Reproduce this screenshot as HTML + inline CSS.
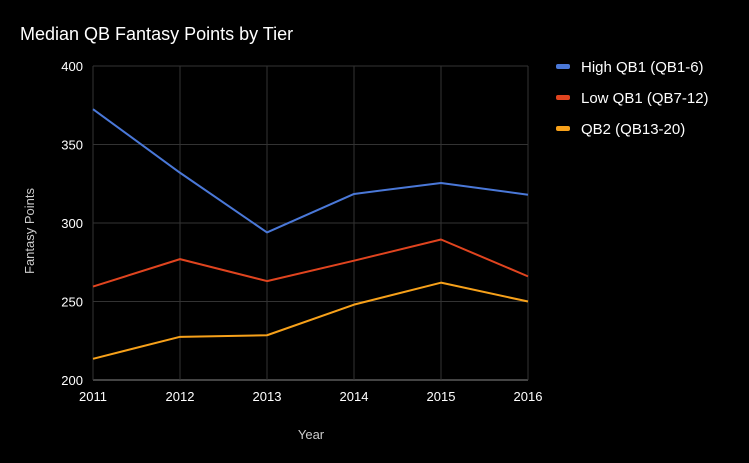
<!DOCTYPE html>
<html><head><meta charset="utf-8"><style>
html,body{margin:0;padding:0;background:#000;}
svg{display:block;font-family:"Liberation Sans",sans-serif;}
</style></head><body>
<svg id="chart" width="749" height="463" viewBox="0 0 749 463">
<rect width="749" height="463" fill="#000"/>
<text x="20" y="40" fill="#fff" font-size="18">Median QB Fantasy Points by Tier</text>
<g id="grid"></g><g id="axes"></g><g id="series"></g><g id="legend"></g>
<text x="311" y="439" fill="#ccc" font-size="13" text-anchor="middle">Year</text>
<text transform="translate(34,231) rotate(-90)" fill="#ccc" font-size="13" text-anchor="middle">Fantasy Points</text>
</svg>
<script>
const years = [2011, 2012, 2013, 2014, 2015, 2016];
const highQB1 = [372.5, 332, 294, 318.5, 325.5, 318];
const lowQB1 = [259.5, 277, 263, 276, 289.5, 266];
const qb2 = [213.5, 227.5, 228.5, 248, 262, 250];
const yTicks = [200, 250, 300, 350, 400];
const seriesNames = ["High QB1 (QB1-6)", "Low QB1 (QB7-12)", "QB2 (QB13-20)"];
const seriesColors = ["#4a78d8", "#e0441f", "#f7a11a"];
const ns = "http://www.w3.org/2000/svg";
const X0 = 93, X1 = 528, Y0 = 380, Y1 = 66;
function xs(y){ return X0 + (y - years[0]) / (years[years.length-1] - years[0]) * (X1 - X0); }
function ys(v){ return Y0 - (v - 200) / 200 * (Y0 - Y1); }
function mk(tag, attrs, parent){ const e = document.createElementNS(ns, tag); for (const k in attrs) e.setAttribute(k, attrs[k]); document.getElementById(parent).appendChild(e); return e; }
yTicks.forEach(t => {
  const l = mk("line", {x1: X0, x2: X1, y1: ys(t), y2: ys(t), stroke: t === 200 ? "#888" : "#333", "stroke-width": 1}, "grid");
  
  
  const tx = mk("text", {x: X0 - 10, y: ys(t) + 5, fill: "#fff", "font-size": 13, "text-anchor": "end"}, "axes");
  tx.textContent = t;
  
  
});
years.forEach(y => {
  const l = mk("line", {x1: xs(y), x2: xs(y), y1: Y1, y2: Y0, stroke: "#333", "stroke-width": 1}, "grid");
  
  
  const tx = mk("text", {x: xs(y), y: Y0 + 21, fill: "#fff", "font-size": 13, "text-anchor": "middle"}, "axes");
  tx.textContent = y;
  
  
});
[highQB1, lowQB1, qb2].forEach((s, i) => {
  const p = mk("polyline", {points: s.map((v, j) => xs(years[j]) + "," + ys(v)).join(" "), fill: "none", stroke: seriesColors[i], "stroke-width": 2, "stroke-linejoin": "round"}, "series");
  
  
  const r = mk("rect", {x: 556, y: 64 + i * 31, width: 14, height: 5, rx: 2, fill: seriesColors[i]}, "legend");
  
  
  const t = mk("text", {x: 581, y: 72 + i * 31, fill: "#fff", "font-size": 15}, "legend");
  t.textContent = seriesNames[i];
  
  
});
</script>
</body></html>
